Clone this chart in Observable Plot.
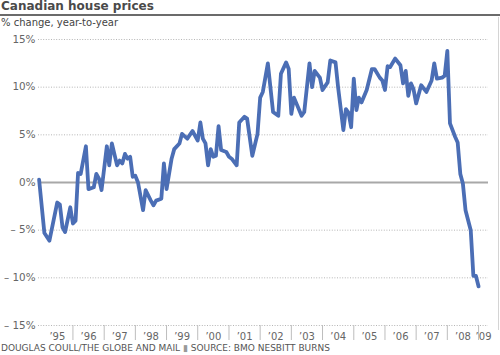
<!DOCTYPE html>
<html>
<head>
<meta charset="utf-8">
<script src="https://cdn.jsdelivr.net/npm/d3@7"></script>
<script src="https://cdn.jsdelivr.net/npm/@observablehq/plot@0.6"></script>
<style>
  html, body { margin: 0; padding: 0; background: #fff; }
  #wrap { position: relative; width: 500px; height: 355px; overflow: hidden; font-family: "DejaVu Sans", Verdana, sans-serif; }
  #title { position: absolute; left: 1px; top: 0px; font-size: 12px; line-height: 12px; font-weight: bold; color: #4a4a4a; white-space: nowrap; }
  #rule { position: absolute; left: 0; top: 14px; width: 500px; height: 2px; background: #6b6b6b; }
  #subtitle { position: absolute; left: 1px; top: 18px; font-size: 10px; line-height: 10px; color: #444; white-space: nowrap; }
  #chart { position: absolute; left: 0; top: 30px; }
  #border { position: absolute; left: 498px; top: 17px; width: 1px; height: 313px; background: #d4d4d4; }
  #footer { position: absolute; left: 1px; top: 344px; font-size: 9px; line-height: 9px; color: #555; white-space: nowrap; }
  #footer span { color: #999; }
</style>
</head>
<body>
<div id="wrap">
  <div id="title">Canadian house prices</div>
  <div id="rule"></div>
  <div id="subtitle">% change, year-to-year</div>
  <div id="chart"></div>
  <div id="border"></div>
  <div id="footer">DOUGLAS COULL/THE GLOBE AND MAIL <span>▮</span> SOURCE: BMO NESBITT BURNS</div>
</div>
<script>
const months = [
  "1994-12","1995-02","1995-04","1995-07","1995-08","1995-09","1995-10","1995-12",
  "1996-01","1996-02","1996-03","1996-04","1996-06","1996-07","1996-09","1996-10","1996-11","1996-12",
  "1997-02","1997-03","1997-04","1997-06","1997-07","1997-08","1997-09","1997-10","1997-11","1997-12",
  "1998-01","1998-02","1998-04","1998-05","1998-07","1998-08","1998-09","1998-11","1998-12",
  "1999-01","1999-03","1999-04","1999-06","1999-07","1999-09","1999-11",
  "2000-01","2000-02","2000-03","2000-04","2000-05","2000-06","2000-07","2000-08","2000-09","2000-10","2000-12",
  "2001-01","2001-02","2001-04","2001-05","2001-07","2001-08","2001-10","2001-12",
  "2002-01","2002-02","2002-04","2002-06","2002-08","2002-09","2002-11","2002-12",
  "2003-01","2003-02","2003-03","2003-05","2003-06","2003-08","2003-09","2003-10","2003-12",
  "2004-01","2004-03","2004-04","2004-06","2004-07","2004-09","2004-10","2004-11","2004-12",
  "2005-01","2005-02","2005-03","2005-04","2005-06","2005-08","2005-09","2005-11","2005-12",
  "2006-01","2006-02","2006-03","2006-05","2006-07","2006-08","2006-09","2006-10","2006-11","2006-12",
  "2007-01","2007-03","2007-05","2007-07","2007-08","2007-09","2007-11","2007-12",
  "2008-01","2008-02","2008-04","2008-05","2008-06","2008-07","2008-08","2008-10","2008-11","2008-12",
  "2009-01"
];
const values = [
  0.3,-5.3,-6.1,-2.1,-2.3,-4.7,-5.2,-2.6,
  -4.3,-4.0,1.0,0.9,3.8,-0.7,-0.5,0.9,0.4,-0.8,
  3.8,1.8,4.1,1.8,2.3,2.0,3.0,2.5,2.7,0.6,
  0.7,0.0,-2.9,-0.8,-1.9,-2.4,-1.9,-1.7,2.0,
  -0.7,2.5,3.5,4.1,5.1,4.6,5.4,
  4.4,6.3,4.6,4.1,1.8,3.5,2.7,2.8,5.9,3.4,3.2,
  2.7,2.5,1.8,6.3,6.9,6.7,2.8,5.1,
  8.9,9.5,12.5,7.4,7.0,11.4,12.6,11.9,
  7.2,8.9,8.3,7.0,7.4,12.5,10.0,11.7,11.0,
  9.7,10.5,12.8,12.6,10.0,5.5,7.7,7.3,5.8,
  10.9,7.6,8.9,8.4,9.7,11.9,11.9,11.0,10.7,
  9.7,12.2,12.1,13.0,12.3,10.4,11.7,9.1,10.4,9.8,
  8.3,10.2,9.5,10.7,12.5,10.9,11.0,11.2,
  13.8,6.2,4.8,4.2,0.9,-0.1,-2.9,-5.0,-9.8,-9.8,
  -10.9
];
const yTicks = [15, 10, 5, 0, -5, -10, -15];
const years = d3.range(1995, 2010);
const yearLabels = years.map(y => "\u2019" + String(y).slice(2));

const data = months.map((m, i) => {
  const [yy, mm] = m.split("-").map(Number);
  return { date: new Date(Date.UTC(yy, mm - 1, 1)), value: values[i] };
});

const domainX = [new Date(Date.UTC(1994, 10, 24)), new Date(Date.UTC(2009, 3, 27))];
const yearStarts = years.slice(1).map(y => new Date(Date.UTC(y, 0, 1)));
const labelAt = years.map(y => {
  const a = Math.max(Date.UTC(y, 0, 1), +domainX[0]);
  const b = Math.min(Date.UTC(y + 1, 0, 1), +domainX[1]);
  return new Date((a + b) / 2);
});
const labelByYear = new Map(years.map((y, i) => [y, yearLabels[i]]));

const chart = Plot.plot({
  width: 500,
  height: 315,
  marginTop: 9,
  marginBottom: 20,
  marginLeft: 38,
  marginRight: 12,
  x: { type: "utc", domain: domainX, label: null },
  y: { domain: [-15, 15], label: null },
  style: { fontFamily: "DejaVu Sans, Verdana, sans-serif", fontSize: "10px", color: "#666", background: "transparent", overflow: "visible" },
  marks: [
    Plot.ruleY(yTicks.filter(d => d !== 0), { stroke: "#b5b5b5", strokeWidth: 1, strokeDasharray: "1,1.6" }),
    Plot.ruleY([0], { stroke: "#a8a8a8", strokeWidth: 2 }),
    Plot.axisY({ ticks: yTicks, tickSize: 0, tickPadding: 3, fontSize: 10.4, fill: "#666",
      tickFormat: d => d < 0 ? "\u2013 " + (-d) + "%" : d + "%" }),
    Plot.axisX({ ticks: yearStarts, tickSize: 15, tickFormat: () => "", stroke: "#bdbdbd" }),
    Plot.axisX({ ticks: labelAt, tickSize: 0, tickPadding: 7, fontSize: 10, fill: "#666",
      tickFormat: d => labelByYear.get(d.getUTCFullYear()) }),
    Plot.line(data, { x: "date", y: "value", stroke: "#4b6eb5", strokeWidth: 3.8, strokeLinejoin: "round", strokeLinecap: "round" })
  ]
});
document.getElementById("chart").appendChild(chart);
</script>
</body>
</html>
